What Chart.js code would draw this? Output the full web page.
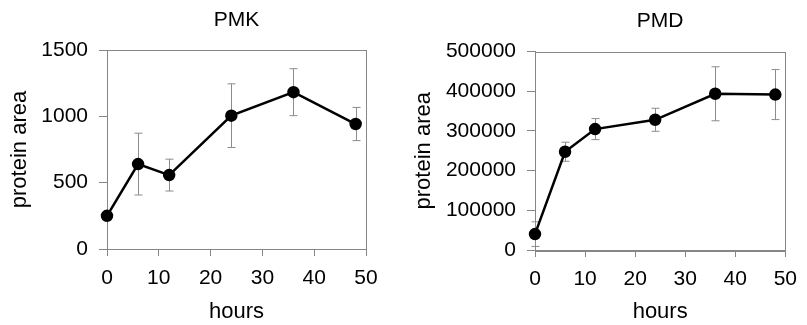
<!DOCTYPE html>
<html>
<head>
<meta charset="utf-8">
<script src="https://cdn.jsdelivr.net/npm/chart.js@4/dist/chart.umd.min.js"></script>
<style>
  body { margin: 0; background: #fff; }
  #wrap { position: relative; width: 807px; height: 325px; }
  #pmk { position: absolute; left: 0; top: 0; }
  #pmd { position: absolute; left: 400px; top: 0; }
</style>
</head>
<body>
<div id="wrap">
  <canvas id="pmk" width="400" height="325"></canvas>
  <canvas id="pmd" width="407" height="325"></canvas>
</div>
<script>
// time points (hours)
var hours = [0, 6, 12, 24, 36, 48];

// PMK protein area, mean and error
var pmkMean = [250, 640, 557, 1005, 1182, 942];
var pmkErr  = [0, 233, 120, 240, 177, 125];

// PMD protein area, mean and error
var pmdMean = [40000, 247500, 304500, 328000, 393500, 391500];
var pmdErr  = [31000, 24000, 26500, 29000, 68000, 63000];

var axisGray = '#868686';
var errGray = '#8c8c8c';
var FONT = 'Liberation Sans, Arial, sans-serif';

// error bars drawn through the chart scales
var errorBars = {
    id: 'errorBars',
    beforeDatasetsDraw: function(chart, args, opts){
        var ctx = chart.ctx;
        var xs = chart.scales.x, ys = chart.scales.y;
        var ds = chart.data.datasets[0];
        ctx.save();
        ctx.strokeStyle = errGray;
        ctx.lineWidth = 1;
        ds.data.forEach(function(p, i){
            var e = opts.errors[i];
            if (!e) return;
            var px = Math.round(xs.getPixelForValue(p.x)) + 0.5;
            var top = ys.getPixelForValue(p.y + e);
            var bot = ys.getPixelForValue(Math.max(p.y - e, 0));
            ctx.beginPath();
            ctx.moveTo(px, top); ctx.lineTo(px, bot);
            ctx.moveTo(px - 4, top); ctx.lineTo(px + 4, top);
            ctx.moveTo(px - 4, bot); ctx.lineTo(px + 4, bot);
            ctx.stroke();
        });
        ctx.restore();
    }
};

// box around the plot area
var plotBox = {
    id: 'plotBox',
    beforeDatasetsDraw: function(chart){
        var a = chart.chartArea, ctx = chart.ctx;
        ctx.save();
        ctx.strokeStyle = axisGray;
        ctx.lineWidth = 1;
        ctx.strokeRect(Math.round(a.left) + 0.5, Math.round(a.top) + 0.5,
                       Math.round(a.right - a.left), Math.round(a.bottom - a.top));
        ctx.restore();
    }
};

function makeChart(id, title, means, errs, yMax, yStep, cfg){
    var pts = hours.map(function(h, i){ return {x: h, y: means[i]}; });
    return new Chart(document.getElementById(id), {
        type: 'line',
        data: {
            datasets: [{
                data: pts,
                borderColor: '#000',
                borderWidth: 2.5,
                backgroundColor: '#000',
                pointBackgroundColor: '#000',
                pointBorderColor: '#000',
                pointRadius: 5,
                tension: 0,
                clip: false
            }]
        },
        options: {
            responsive: false,
            animation: false,
            devicePixelRatio: 1,
            layout: { padding: { left: 0, right: cfg.right, top: 0, bottom: 0 } },
            plugins: {
                legend: { display: false },
                tooltip: { enabled: false },
                title: {
                    display: true,
                    text: title,
                    fullSize: false,
                    color: '#000',
                    font: { family: FONT, size: 21, weight: 'normal', lineHeight: 1.2 },
                    padding: { top: cfg.titleTop, bottom: cfg.titleBottom }
                },
                errorBars: { errors: errs }
            },
            scales: {
                x: {
                    type: 'linear',
                    min: 0, max: 50,
                    afterFit: function(s){ s.height = cfg.xHeight; },
                    ticks: {
                        stepSize: 10,
                        color: '#000',
                        padding: 10,
                        font: { family: FONT, size: 21 }
                    },
                    grid: { drawOnChartArea: false, drawTicks: true, tickLength: 7, color: axisGray },
                    border: { display: true, color: axisGray, width: 1 },
                    title: {
                        display: true,
                        text: 'hours',
                        color: '#000',
                        font: { family: FONT, size: 22, lineHeight: 1.2 },
                        padding: { top: 0, bottom: 0 }
                    }
                },
                y: {
                    min: 0, max: yMax,
                    afterFit: function(s){ s.width = cfg.yWidth; },
                    ticks: {
                        stepSize: yStep,
                        color: '#000',
                        padding: 11,
                        font: { family: FONT, size: 21 },
                        callback: function(v){ return String(v); }
                    },
                    grid: { drawOnChartArea: false, drawTicks: true, tickLength: 8, color: axisGray },
                    border: { display: true, color: axisGray, width: 1 },
                    title: {
                        display: true,
                        text: 'protein area',
                        color: '#000',
                        font: { family: FONT, size: 22, lineHeight: 1.2 },
                        padding: { top: cfg.yTitlePad, bottom: 0 }
                    }
                }
            }
        },
        plugins: [plotBox, errorBars]
    });
}

makeChart('pmk', 'PMK', pmkMean, pmkErr, 1500, 500,
    { right: 34, titleTop: 8, titleBottom: 16.8, xHeight: 76, yWidth: 107, yTitlePad: 7 });
makeChart('pmd', 'PMD', pmdMean, pmdErr, 500000, 100000,
    { right: 15, titleTop: 9, titleBottom: 17.3, xHeight: 75, yWidth: 135, yTitlePad: 11 });
</script>
</body>
</html>
